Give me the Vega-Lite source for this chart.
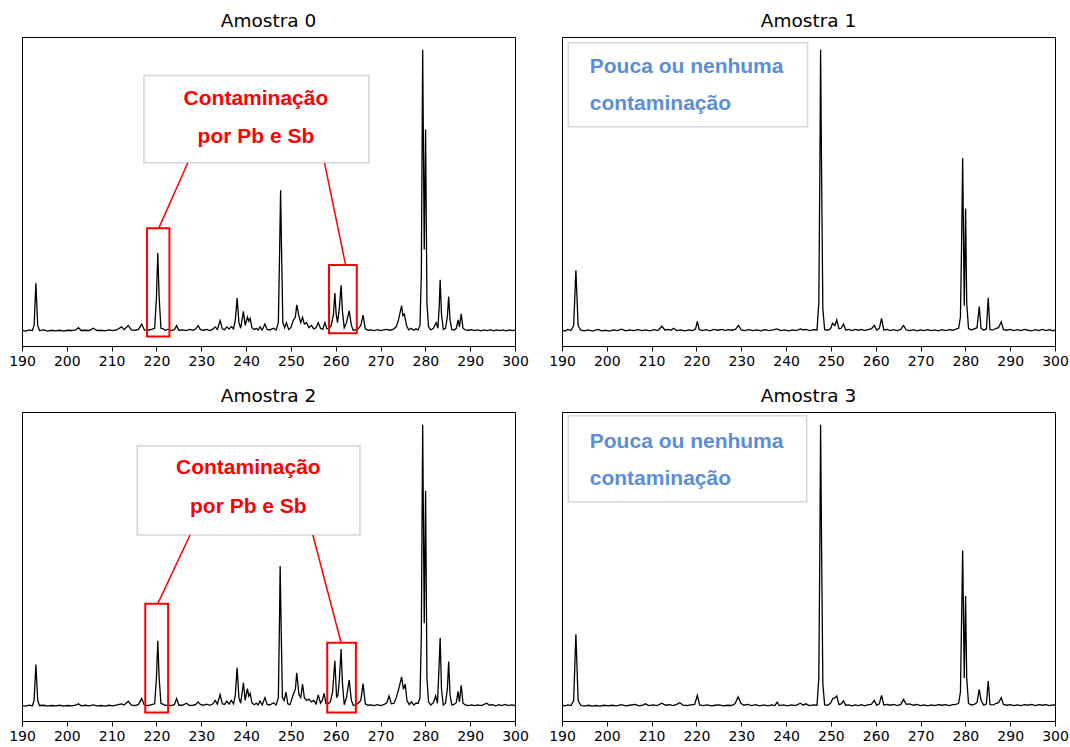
{
"$schema": "https://vega.github.io/schema/vega-lite/v6.json",
"background": "white",
"autosize": {"type": "pad"},
"padding": {"left": 8, "top": 11, "right": 5, "bottom": 5},
"datasets": {
"s0": [{"x":190.0,"y":0.003},{"x":190.8,"y":0.0},{"x":191.6,"y":0.004},{"x":192.3,"y":0.002},{"x":192.7,"y":0.02},{"x":193.1,"y":0.17},{"x":193.5,"y":0.02},{"x":193.9,"y":0.002},{"x":194.8,"y":0.004},{"x":195.7,"y":0.0},{"x":196.6,"y":0.003},{"x":197.5,"y":0.001},{"x":198.4,"y":0.003},{"x":199.3,"y":0.0},{"x":200.2,"y":0.003},{"x":201.1,"y":0.002},{"x":202.0,"y":0.004},{"x":202.6,"y":0.012},{"x":203.2,"y":0.002},{"x":204.1,"y":0.003},{"x":205.0,"y":0.002},{"x":205.9,"y":0.01},{"x":206.7,"y":0.002},{"x":207.6,"y":0.003},{"x":208.5,"y":0.001},{"x":209.4,"y":0.004},{"x":210.3,"y":0.002},{"x":211.2,"y":0.005},{"x":212.2,"y":0.015},{"x":212.8,"y":0.005},{"x":213.7,"y":0.02},{"x":214.4,"y":0.004},{"x":215.3,"y":0.003},{"x":216.0,"y":0.006},{"x":216.7,"y":0.025},{"x":217.3,"y":0.004},{"x":218.2,"y":0.003},{"x":218.9,"y":0.006},{"x":219.6,"y":0.01},{"x":220.0,"y":0.12},{"x":220.3,"y":0.277},{"x":220.6,"y":0.12},{"x":221.0,"y":0.01},{"x":221.5,"y":0.008},{"x":222.0,"y":0.003},{"x":222.6,"y":0.007},{"x":223.2,"y":0.002},{"x":224.0,"y":0.005},{"x":224.5,"y":0.019},{"x":225.0,"y":0.003},{"x":225.8,"y":0.004},{"x":226.6,"y":0.002},{"x":227.4,"y":0.006},{"x":228.2,"y":0.003},{"x":228.8,"y":0.008},{"x":229.3,"y":0.02},{"x":229.8,"y":0.005},{"x":230.5,"y":0.003},{"x":231.2,"y":0.006},{"x":231.9,"y":0.002},{"x":232.6,"y":0.007},{"x":233.1,"y":0.015},{"x":233.6,"y":0.006},{"x":234.2,"y":0.037},{"x":234.7,"y":0.008},{"x":235.2,"y":0.005},{"x":235.7,"y":0.015},{"x":236.2,"y":0.007},{"x":236.7,"y":0.016},{"x":237.2,"y":0.008},{"x":237.6,"y":0.04},{"x":238.0,"y":0.117},{"x":238.4,"y":0.03},{"x":238.8,"y":0.01},{"x":239.4,"y":0.07},{"x":239.8,"y":0.02},{"x":240.3,"y":0.05},{"x":240.6,"y":0.035},{"x":240.9,"y":0.045},{"x":241.3,"y":0.012},{"x":241.8,"y":0.006},{"x":242.3,"y":0.009},{"x":242.7,"y":0.004},{"x":243.1,"y":0.015},{"x":243.6,"y":0.004},{"x":244.2,"y":0.025},{"x":244.7,"y":0.006},{"x":245.3,"y":0.004},{"x":246.1,"y":0.01},{"x":246.7,"y":0.004},{"x":247.2,"y":0.03},{"x":247.5,"y":0.3},{"x":247.7,"y":0.5},{"x":247.9,"y":0.3},{"x":248.2,"y":0.03},{"x":248.6,"y":0.012},{"x":249.0,"y":0.03},{"x":249.5,"y":0.006},{"x":250.0,"y":0.012},{"x":250.5,"y":0.037},{"x":251.0,"y":0.05},{"x":251.3,"y":0.093},{"x":251.8,"y":0.053},{"x":252.2,"y":0.03},{"x":252.6,"y":0.049},{"x":253.0,"y":0.025},{"x":253.5,"y":0.03},{"x":254.0,"y":0.012},{"x":254.6,"y":0.02},{"x":255.1,"y":0.008},{"x":255.6,"y":0.012},{"x":256.1,"y":0.03},{"x":256.6,"y":0.01},{"x":257.1,"y":0.006},{"x":257.6,"y":0.03},{"x":258.0,"y":0.008},{"x":258.5,"y":0.01},{"x":259.0,"y":0.02},{"x":259.5,"y":0.06},{"x":259.8,"y":0.135},{"x":260.1,"y":0.06},{"x":260.4,"y":0.03},{"x":260.8,"y":0.08},{"x":261.2,"y":0.163},{"x":261.5,"y":0.07},{"x":261.9,"y":0.012},{"x":262.4,"y":0.03},{"x":263.0,"y":0.072},{"x":263.5,"y":0.02},{"x":263.9,"y":0.003},{"x":264.5,"y":0.004},{"x":265.0,"y":0.008},{"x":265.6,"y":0.02},{"x":266.1,"y":0.057},{"x":266.6,"y":0.008},{"x":267.2,"y":0.003},{"x":267.9,"y":0.004},{"x":268.6,"y":0.002},{"x":269.3,"y":0.005},{"x":270.0,"y":0.002},{"x":270.7,"y":0.004},{"x":271.4,"y":0.006},{"x":272.1,"y":0.003},{"x":272.8,"y":0.006},{"x":273.5,"y":0.015},{"x":274.0,"y":0.04},{"x":274.7,"y":0.09},{"x":275.0,"y":0.055},{"x":275.3,"y":0.06},{"x":275.8,"y":0.02},{"x":276.3,"y":0.004},{"x":276.8,"y":0.01},{"x":277.4,"y":0.003},{"x":277.9,"y":0.008},{"x":278.4,"y":0.004},{"x":278.8,"y":0.02},{"x":279.1,"y":0.2},{"x":279.4,"y":1.0},{"x":279.75,"y":0.29},{"x":280.05,"y":0.716},{"x":280.35,"y":0.1},{"x":280.7,"y":0.015},{"x":281.2,"y":0.004},{"x":281.8,"y":0.01},{"x":282.4,"y":0.03},{"x":282.8,"y":0.01},{"x":283.1,"y":0.09},{"x":283.3,"y":0.182},{"x":283.6,"y":0.06},{"x":284.0,"y":0.006},{"x":284.5,"y":0.01},{"x":284.9,"y":0.05},{"x":285.2,"y":0.123},{"x":285.5,"y":0.04},{"x":285.9,"y":0.005},{"x":286.4,"y":0.004},{"x":286.9,"y":0.01},{"x":287.3,"y":0.04},{"x":287.6,"y":0.015},{"x":288.0,"y":0.061},{"x":288.4,"y":0.01},{"x":288.9,"y":0.004},{"x":289.6,"y":0.003},{"x":290.3,"y":0.005},{"x":291.0,"y":0.002},{"x":291.7,"y":0.004},{"x":292.4,"y":0.001},{"x":293.1,"y":0.004},{"x":293.8,"y":0.002},{"x":294.5,"y":0.005},{"x":295.2,"y":0.001},{"x":295.9,"y":0.004},{"x":296.6,"y":0.002},{"x":297.3,"y":0.004},{"x":298.0,"y":0.001},{"x":298.7,"y":0.004},{"x":299.4,"y":0.002},{"x":300.0,"y":0.003}],
"s1": [{"x":190.0,"y":0.004},{"x":190.7,"y":0.0},{"x":191.3,"y":0.006},{"x":192.0,"y":0.002},{"x":192.6,"y":0.02},{"x":193.1,"y":0.216},{"x":193.6,"y":0.02},{"x":194.2,"y":0.003},{"x":195.0,"y":0.001},{"x":195.9,"y":0.004},{"x":196.8,"y":0.0},{"x":197.5,"y":0.003},{"x":198.1,"y":0.006},{"x":198.8,"y":0.001},{"x":199.7,"y":0.003},{"x":200.6,"y":0.0},{"x":201.5,"y":0.004},{"x":202.4,"y":0.002},{"x":203.3,"y":0.007},{"x":204.2,"y":0.001},{"x":205.1,"y":0.004},{"x":206.0,"y":0.002},{"x":206.9,"y":0.005},{"x":207.8,"y":0.002},{"x":208.7,"y":0.004},{"x":209.6,"y":0.001},{"x":210.5,"y":0.005},{"x":211.4,"y":0.002},{"x":212.3,"y":0.017},{"x":213.0,"y":0.003},{"x":213.7,"y":0.006},{"x":214.3,"y":0.003},{"x":214.9,"y":0.01},{"x":215.6,"y":0.002},{"x":216.5,"y":0.004},{"x":217.4,"y":0.001},{"x":218.3,"y":0.004},{"x":219.2,"y":0.002},{"x":219.8,"y":0.008},{"x":220.2,"y":0.034},{"x":220.6,"y":0.006},{"x":221.3,"y":0.002},{"x":222.1,"y":0.005},{"x":223.0,"y":0.001},{"x":223.9,"y":0.006},{"x":224.8,"y":0.003},{"x":225.7,"y":0.006},{"x":226.5,"y":0.002},{"x":227.0,"y":0.005},{"x":227.8,"y":0.003},{"x":228.7,"y":0.006},{"x":229.4,"y":0.02},{"x":230.0,"y":0.004},{"x":230.8,"y":0.002},{"x":231.7,"y":0.005},{"x":232.6,"y":0.002},{"x":233.5,"y":0.004},{"x":234.4,"y":0.001},{"x":235.3,"y":0.005},{"x":236.2,"y":0.002},{"x":237.1,"y":0.004},{"x":238.0,"y":0.008},{"x":238.8,"y":0.002},{"x":239.7,"y":0.004},{"x":240.6,"y":0.001},{"x":241.5,"y":0.004},{"x":242.3,"y":0.002},{"x":243.2,"y":0.008},{"x":243.8,"y":0.004},{"x":244.4,"y":0.006},{"x":245.3,"y":0.002},{"x":246.2,"y":0.005},{"x":246.9,"y":0.004},{"x":247.3,"y":0.1},{"x":247.55,"y":0.6},{"x":247.7,"y":1.0},{"x":247.9,"y":0.6},{"x":248.2,"y":0.08},{"x":248.6,"y":0.005},{"x":249.3,"y":0.003},{"x":249.9,"y":0.008},{"x":250.4,"y":0.028},{"x":250.9,"y":0.02},{"x":251.3,"y":0.04},{"x":251.8,"y":0.008},{"x":252.3,"y":0.01},{"x":252.8,"y":0.025},{"x":253.3,"y":0.004},{"x":254.0,"y":0.006},{"x":254.7,"y":0.002},{"x":255.4,"y":0.006},{"x":256.1,"y":0.003},{"x":256.8,"y":0.006},{"x":257.5,"y":0.002},{"x":258.2,"y":0.005},{"x":259.0,"y":0.008},{"x":259.7,"y":0.02},{"x":260.2,"y":0.004},{"x":260.8,"y":0.01},{"x":261.3,"y":0.045},{"x":261.8,"y":0.004},{"x":262.5,"y":0.006},{"x":263.2,"y":0.002},{"x":264.0,"y":0.005},{"x":264.8,"y":0.002},{"x":265.6,"y":0.006},{"x":266.2,"y":0.02},{"x":266.8,"y":0.004},{"x":267.6,"y":0.002},{"x":268.4,"y":0.005},{"x":269.2,"y":0.001},{"x":270.0,"y":0.004},{"x":270.8,"y":0.002},{"x":271.6,"y":0.005},{"x":272.4,"y":0.002},{"x":273.2,"y":0.004},{"x":274.0,"y":0.001},{"x":274.8,"y":0.005},{"x":275.6,"y":0.002},{"x":276.4,"y":0.005},{"x":277.2,"y":0.003},{"x":277.9,"y":0.007},{"x":278.5,"y":0.01},{"x":278.9,"y":0.05},{"x":279.15,"y":0.3},{"x":279.4,"y":0.614},{"x":279.75,"y":0.09},{"x":280.05,"y":0.436},{"x":280.3,"y":0.1},{"x":280.7,"y":0.01},{"x":281.3,"y":0.004},{"x":282.0,"y":0.008},{"x":282.6,"y":0.012},{"x":283.1,"y":0.087},{"x":283.5,"y":0.01},{"x":284.1,"y":0.003},{"x":284.7,"y":0.008},{"x":285.1,"y":0.118},{"x":285.5,"y":0.005},{"x":286.2,"y":0.004},{"x":286.9,"y":0.01},{"x":287.4,"y":0.012},{"x":288.0,"y":0.033},{"x":288.5,"y":0.005},{"x":289.2,"y":0.003},{"x":290.0,"y":0.006},{"x":290.8,"y":0.002},{"x":291.6,"y":0.005},{"x":292.4,"y":0.002},{"x":293.2,"y":0.006},{"x":294.0,"y":0.003},{"x":294.8,"y":0.001},{"x":295.6,"y":0.005},{"x":296.4,"y":0.002},{"x":297.2,"y":0.006},{"x":298.0,"y":0.002},{"x":298.8,"y":0.005},{"x":299.5,"y":0.001},{"x":300.0,"y":0.004}],
"s2": [{"x":190.0,"y":0.002},{"x":190.8,"y":0.0},{"x":191.6,"y":0.003},{"x":192.3,"y":0.001},{"x":192.7,"y":0.02},{"x":193.1,"y":0.148},{"x":193.5,"y":0.02},{"x":193.9,"y":0.002},{"x":194.8,"y":0.003},{"x":195.7,"y":0.0},{"x":196.6,"y":0.002},{"x":197.5,"y":0.001},{"x":198.4,"y":0.003},{"x":199.3,"y":0.0},{"x":200.2,"y":0.002},{"x":201.1,"y":0.001},{"x":202.0,"y":0.003},{"x":202.6,"y":0.008},{"x":203.2,"y":0.001},{"x":204.1,"y":0.003},{"x":205.0,"y":0.001},{"x":205.9,"y":0.004},{"x":206.7,"y":0.001},{"x":207.6,"y":0.002},{"x":208.5,"y":0.0},{"x":209.4,"y":0.003},{"x":210.3,"y":0.001},{"x":211.2,"y":0.004},{"x":212.2,"y":0.008},{"x":212.8,"y":0.004},{"x":213.7,"y":0.017},{"x":214.4,"y":0.003},{"x":215.3,"y":0.002},{"x":216.0,"y":0.006},{"x":216.7,"y":0.027},{"x":217.3,"y":0.003},{"x":218.2,"y":0.002},{"x":218.9,"y":0.005},{"x":219.6,"y":0.008},{"x":220.0,"y":0.1},{"x":220.3,"y":0.232},{"x":220.6,"y":0.1},{"x":221.0,"y":0.01},{"x":221.5,"y":0.006},{"x":222.0,"y":0.002},{"x":222.6,"y":0.005},{"x":223.2,"y":0.002},{"x":224.0,"y":0.005},{"x":224.5,"y":0.027},{"x":225.0,"y":0.003},{"x":225.8,"y":0.003},{"x":226.7,"y":0.01},{"x":227.4,"y":0.002},{"x":228.2,"y":0.003},{"x":228.8,"y":0.006},{"x":229.3,"y":0.015},{"x":229.8,"y":0.006},{"x":230.5,"y":0.003},{"x":231.2,"y":0.007},{"x":231.9,"y":0.003},{"x":232.6,"y":0.008},{"x":233.1,"y":0.02},{"x":233.6,"y":0.007},{"x":234.2,"y":0.041},{"x":234.7,"y":0.008},{"x":235.2,"y":0.006},{"x":235.7,"y":0.018},{"x":236.2,"y":0.007},{"x":236.7,"y":0.02},{"x":237.2,"y":0.008},{"x":237.6,"y":0.04},{"x":238.0,"y":0.136},{"x":238.4,"y":0.03},{"x":238.8,"y":0.01},{"x":239.4,"y":0.083},{"x":239.8,"y":0.02},{"x":240.3,"y":0.062},{"x":240.6,"y":0.035},{"x":240.9,"y":0.045},{"x":241.3,"y":0.012},{"x":241.8,"y":0.005},{"x":242.3,"y":0.01},{"x":242.7,"y":0.004},{"x":243.1,"y":0.018},{"x":243.6,"y":0.004},{"x":244.2,"y":0.03},{"x":244.7,"y":0.006},{"x":245.3,"y":0.004},{"x":246.1,"y":0.012},{"x":246.7,"y":0.004},{"x":247.2,"y":0.03},{"x":247.45,"y":0.3},{"x":247.6,"y":0.498},{"x":247.8,"y":0.3},{"x":248.1,"y":0.03},{"x":248.5,"y":0.02},{"x":248.9,"y":0.05},{"x":249.3,"y":0.008},{"x":249.8,"y":0.005},{"x":250.5,"y":0.04},{"x":251.0,"y":0.06},{"x":251.3,"y":0.118},{"x":251.8,"y":0.04},{"x":252.2,"y":0.03},{"x":252.6,"y":0.078},{"x":253.0,"y":0.03},{"x":253.5,"y":0.02},{"x":254.0,"y":0.025},{"x":254.6,"y":0.015},{"x":255.1,"y":0.02},{"x":255.6,"y":0.008},{"x":256.1,"y":0.04},{"x":256.6,"y":0.01},{"x":257.0,"y":0.02},{"x":257.4,"y":0.045},{"x":257.8,"y":0.01},{"x":258.3,"y":0.008},{"x":258.8,"y":0.015},{"x":259.3,"y":0.05},{"x":259.8,"y":0.161},{"x":260.2,"y":0.03},{"x":260.5,"y":0.04},{"x":260.8,"y":0.09},{"x":261.2,"y":0.203},{"x":261.5,"y":0.08},{"x":261.9,"y":0.005},{"x":262.4,"y":0.03},{"x":263.0,"y":0.092},{"x":263.5,"y":0.02},{"x":263.9,"y":0.003},{"x":264.5,"y":0.004},{"x":265.0,"y":0.01},{"x":265.6,"y":0.02},{"x":266.1,"y":0.08},{"x":266.6,"y":0.008},{"x":267.2,"y":0.003},{"x":267.9,"y":0.004},{"x":268.6,"y":0.002},{"x":269.3,"y":0.005},{"x":270.0,"y":0.002},{"x":270.7,"y":0.005},{"x":271.4,"y":0.012},{"x":271.9,"y":0.036},{"x":272.4,"y":0.008},{"x":273.0,"y":0.01},{"x":273.5,"y":0.03},{"x":274.0,"y":0.057},{"x":274.7,"y":0.104},{"x":275.1,"y":0.06},{"x":275.5,"y":0.078},{"x":275.9,"y":0.02},{"x":276.4,"y":0.005},{"x":276.9,"y":0.015},{"x":277.4,"y":0.004},{"x":277.9,"y":0.01},{"x":278.4,"y":0.01},{"x":278.8,"y":0.03},{"x":279.1,"y":0.25},{"x":279.4,"y":1.0},{"x":279.75,"y":0.294},{"x":280.05,"y":0.765},{"x":280.35,"y":0.1},{"x":280.7,"y":0.015},{"x":281.2,"y":0.004},{"x":281.8,"y":0.012},{"x":282.3,"y":0.036},{"x":282.7,"y":0.01},{"x":283.0,"y":0.12},{"x":283.3,"y":0.243},{"x":283.6,"y":0.06},{"x":284.0,"y":0.004},{"x":284.5,"y":0.01},{"x":284.9,"y":0.06},{"x":285.2,"y":0.158},{"x":285.5,"y":0.04},{"x":285.9,"y":0.004},{"x":286.4,"y":0.006},{"x":286.9,"y":0.012},{"x":287.3,"y":0.052},{"x":287.6,"y":0.015},{"x":288.0,"y":0.074},{"x":288.4,"y":0.01},{"x":288.9,"y":0.004},{"x":289.6,"y":0.002},{"x":290.3,"y":0.004},{"x":291.0,"y":0.002},{"x":291.7,"y":0.004},{"x":292.4,"y":0.002},{"x":293.1,"y":0.006},{"x":293.7,"y":0.01},{"x":294.3,"y":0.003},{"x":295.0,"y":0.005},{"x":295.7,"y":0.001},{"x":296.4,"y":0.005},{"x":297.1,"y":0.002},{"x":297.8,"y":0.006},{"x":298.5,"y":0.002},{"x":299.2,"y":0.004},{"x":300.0,"y":0.002}],
"s3": [{"x":190.0,"y":0.003},{"x":190.7,"y":0.001},{"x":191.3,"y":0.004},{"x":192.0,"y":0.002},{"x":192.6,"y":0.02},{"x":193.1,"y":0.255},{"x":193.6,"y":0.02},{"x":194.2,"y":0.002},{"x":195.0,"y":0.0},{"x":195.9,"y":0.003},{"x":196.8,"y":0.0},{"x":197.6,"y":0.002},{"x":198.5,"y":0.0},{"x":199.4,"y":0.003},{"x":200.3,"y":0.001},{"x":201.2,"y":0.003},{"x":202.1,"y":0.001},{"x":203.3,"y":0.005},{"x":204.2,"y":0.001},{"x":205.1,"y":0.003},{"x":206.3,"y":0.006},{"x":207.2,"y":0.001},{"x":208.0,"y":0.003},{"x":208.6,"y":0.008},{"x":209.4,"y":0.002},{"x":210.3,"y":0.004},{"x":211.2,"y":0.002},{"x":212.3,"y":0.01},{"x":213.1,"y":0.003},{"x":214.0,"y":0.005},{"x":214.8,"y":0.002},{"x":215.6,"y":0.006},{"x":216.3,"y":0.012},{"x":217.0,"y":0.003},{"x":217.9,"y":0.002},{"x":218.7,"y":0.004},{"x":219.6,"y":0.006},{"x":220.2,"y":0.038},{"x":220.7,"y":0.004},{"x":221.5,"y":0.002},{"x":222.4,"y":0.004},{"x":223.3,"y":0.001},{"x":224.2,"y":0.003},{"x":225.1,"y":0.004},{"x":226.0,"y":0.001},{"x":226.9,"y":0.003},{"x":227.8,"y":0.002},{"x":228.6,"y":0.008},{"x":229.3,"y":0.033},{"x":229.9,"y":0.01},{"x":230.6,"y":0.003},{"x":231.4,"y":0.006},{"x":232.3,"y":0.002},{"x":233.2,"y":0.005},{"x":234.1,"y":0.001},{"x":235.0,"y":0.004},{"x":235.9,"y":0.001},{"x":236.8,"y":0.004},{"x":237.5,"y":0.002},{"x":238.0,"y":0.014},{"x":238.5,"y":0.002},{"x":239.4,"y":0.004},{"x":240.3,"y":0.001},{"x":241.2,"y":0.004},{"x":242.1,"y":0.002},{"x":243.2,"y":0.01},{"x":243.8,"y":0.003},{"x":244.4,"y":0.008},{"x":245.2,"y":0.002},{"x":246.1,"y":0.004},{"x":246.9,"y":0.003},{"x":247.3,"y":0.1},{"x":247.55,"y":0.6},{"x":247.7,"y":1.0},{"x":247.9,"y":0.6},{"x":248.2,"y":0.08},{"x":248.6,"y":0.004},{"x":249.3,"y":0.003},{"x":249.9,"y":0.01},{"x":250.4,"y":0.026},{"x":250.9,"y":0.03},{"x":251.3,"y":0.036},{"x":251.8,"y":0.005},{"x":252.3,"y":0.008},{"x":252.8,"y":0.018},{"x":253.3,"y":0.003},{"x":254.0,"y":0.004},{"x":254.7,"y":0.001},{"x":255.4,"y":0.004},{"x":256.1,"y":0.002},{"x":256.8,"y":0.005},{"x":257.5,"y":0.001},{"x":258.2,"y":0.004},{"x":259.0,"y":0.006},{"x":259.7,"y":0.02},{"x":260.2,"y":0.003},{"x":260.8,"y":0.008},{"x":261.3,"y":0.038},{"x":261.8,"y":0.004},{"x":262.5,"y":0.006},{"x":263.2,"y":0.003},{"x":264.0,"y":0.006},{"x":264.8,"y":0.002},{"x":265.6,"y":0.006},{"x":266.2,"y":0.024},{"x":266.8,"y":0.006},{"x":267.6,"y":0.008},{"x":268.4,"y":0.003},{"x":269.2,"y":0.006},{"x":270.0,"y":0.002},{"x":270.8,"y":0.004},{"x":271.6,"y":0.001},{"x":272.4,"y":0.004},{"x":273.2,"y":0.002},{"x":274.0,"y":0.005},{"x":274.8,"y":0.003},{"x":275.6,"y":0.005},{"x":276.4,"y":0.002},{"x":277.2,"y":0.005},{"x":277.9,"y":0.006},{"x":278.5,"y":0.01},{"x":278.9,"y":0.05},{"x":279.15,"y":0.3},{"x":279.4,"y":0.553},{"x":279.75,"y":0.1},{"x":280.05,"y":0.391},{"x":280.3,"y":0.1},{"x":280.7,"y":0.01},{"x":281.3,"y":0.004},{"x":282.0,"y":0.006},{"x":282.6,"y":0.012},{"x":283.1,"y":0.059},{"x":283.5,"y":0.02},{"x":284.1,"y":0.003},{"x":284.7,"y":0.008},{"x":285.1,"y":0.089},{"x":285.5,"y":0.005},{"x":286.2,"y":0.004},{"x":286.9,"y":0.01},{"x":287.4,"y":0.012},{"x":288.0,"y":0.03},{"x":288.5,"y":0.006},{"x":289.2,"y":0.003},{"x":290.0,"y":0.005},{"x":290.8,"y":0.002},{"x":291.6,"y":0.004},{"x":292.4,"y":0.002},{"x":293.2,"y":0.005},{"x":294.0,"y":0.003},{"x":294.8,"y":0.006},{"x":295.6,"y":0.002},{"x":296.4,"y":0.005},{"x":297.2,"y":0.003},{"x":298.0,"y":0.005},{"x":298.8,"y":0.002},{"x":299.5,"y":0.004},{"x":300.0,"y":0.003}]
},
"columns": 2,
"spacing": {"row": 66, "column": 47},
"bounds": "flush",
"concat": [
{
"title": "Amostra 0",
"width": 493, "height": 309,
"layer": [
{"data": {"name": "s0"}, "mark": {"type": "line", "color": "black", "strokeWidth": 1.3, "clip": true},
 "encoding": {"x": {"field": "x", "type": "quantitative", "scale": {"domain": [190, 300], "nice": false, "zero": false}, "axis": {"values": [190,200,210,220,230,240,250,260,270,280,290,300], "title": null}}, "y": {"field": "y", "type": "quantitative", "scale": {"domain": [-0.053, 1.045], "nice": false, "zero": false}, "axis": null}}},
{"data": {"values": [{"x1": 217.2, "x2": 267.4, "y1": 0.598, "y2": 0.908}]}, "mark": {"type": "rect", "fill": "white", "stroke": "#d6d6d6", "strokeWidth": 1.5},
 "encoding": {"x": {"field": "x1", "type": "quantitative", "scale": {"domain": [190, 300], "nice": false, "zero": false}}, "x2": {"field": "x2"}, "y": {"field": "y1", "type": "quantitative", "scale": {"domain": [-0.053, 1.045], "nice": false, "zero": false}}, "y2": {"field": "y2"}}},
{"data": {"values": [{"x1": 217.9, "x2": 222.9, "y1": -0.019, "y2": 0.365}, {"x1": 258.5, "x2": 264.7, "y1": -0.008, "y2": 0.235}]}, "mark": {"type": "rect", "fill": null, "fillOpacity": 0, "stroke": "red", "strokeWidth": 2},
 "encoding": {"x": {"field": "x1", "type": "quantitative", "scale": {"domain": [190, 300], "nice": false, "zero": false}}, "x2": {"field": "x2"}, "y": {"field": "y1", "type": "quantitative", "scale": {"domain": [-0.053, 1.045], "nice": false, "zero": false}}, "y2": {"field": "y2"}}},
{"data": {"values": [{"x1": 227.0, "y1": 0.598, "x2": 220.5, "y2": 0.365}, {"x1": 257.5, "y1": 0.598, "x2": 262.2, "y2": 0.235}]}, "mark": {"type": "rule", "color": "red", "strokeWidth": 1.5},
 "encoding": {"x": {"field": "x1", "type": "quantitative", "scale": {"domain": [190, 300], "nice": false, "zero": false}}, "x2": {"field": "x2"}, "y": {"field": "y1", "type": "quantitative", "scale": {"domain": [-0.053, 1.045], "nice": false, "zero": false}}, "y2": {"field": "y2"}}},
{"data": {"values": [{"x": 242.2, "y": 0.823, "t": "Contaminação"}, {"x": 242.2, "y": 0.688, "t": "por Pb e Sb"}]}, "mark": {"type": "text", "font": "Liberation Sans", "fontWeight": "bold", "fontSize": 21, "color": "red", "align": "center", "baseline": "middle"},
 "encoding": {"x": {"field": "x", "type": "quantitative", "scale": {"domain": [190, 300], "nice": false, "zero": false}}, "y": {"field": "y", "type": "quantitative", "scale": {"domain": [-0.053, 1.045], "nice": false, "zero": false}}, "text": {"field": "t"}}}
]
},
{
"title": "Amostra 1",
"width": 493, "height": 309,
"layer": [
{"data": {"name": "s1"}, "mark": {"type": "line", "color": "black", "strokeWidth": 1.3, "clip": true},
 "encoding": {"x": {"field": "x", "type": "quantitative", "scale": {"domain": [190, 300], "nice": false, "zero": false}, "axis": {"values": [190,200,210,220,230,240,250,260,270,280,290,300], "title": null}}, "y": {"field": "y", "type": "quantitative", "scale": {"domain": [-0.053, 1.045], "nice": false, "zero": false}, "axis": null}}},
{"data": {"values": [{"x1": 191.4, "x2": 244.8, "y1": 0.726, "y2": 1.025}]}, "mark": {"type": "rect", "fill": "white", "stroke": "#d6d6d6", "strokeWidth": 1.5},
 "encoding": {"x": {"field": "x1", "type": "quantitative", "scale": {"domain": [190, 300], "nice": false, "zero": false}}, "x2": {"field": "x2"}, "y": {"field": "y1", "type": "quantitative", "scale": {"domain": [-0.053, 1.045], "nice": false, "zero": false}}, "y2": {"field": "y2"}}},
{"data": {"values": [{"x": 196.2, "y": 0.94, "t": "Pouca ou nenhuma"}, {"x": 196.2, "y": 0.807, "t": "contaminação"}]}, "mark": {"type": "text", "font": "Liberation Sans", "fontWeight": "bold", "fontSize": 21, "color": "#5b8ed6", "align": "left", "baseline": "middle"},
 "encoding": {"x": {"field": "x", "type": "quantitative", "scale": {"domain": [190, 300], "nice": false, "zero": false}}, "y": {"field": "y", "type": "quantitative", "scale": {"domain": [-0.053, 1.045], "nice": false, "zero": false}}, "text": {"field": "t"}}}
]
},
{
"title": "Amostra 2",
"width": 493, "height": 309,
"layer": [
{"data": {"name": "s2"}, "mark": {"type": "line", "color": "black", "strokeWidth": 1.3, "clip": true},
 "encoding": {"x": {"field": "x", "type": "quantitative", "scale": {"domain": [190, 300], "nice": false, "zero": false}, "axis": {"values": [190,200,210,220,230,240,250,260,270,280,290,300], "title": null}}, "y": {"field": "y", "type": "quantitative", "scale": {"domain": [-0.053, 1.045], "nice": false, "zero": false}, "axis": null}}},
{"data": {"values": [{"x1": 215.7, "x2": 265.4, "y1": 0.608, "y2": 0.925}]}, "mark": {"type": "rect", "fill": "white", "stroke": "#d6d6d6", "strokeWidth": 1.5},
 "encoding": {"x": {"field": "x1", "type": "quantitative", "scale": {"domain": [190, 300], "nice": false, "zero": false}}, "x2": {"field": "x2"}, "y": {"field": "y1", "type": "quantitative", "scale": {"domain": [-0.053, 1.045], "nice": false, "zero": false}}, "y2": {"field": "y2"}}},
{"data": {"values": [{"x1": 217.5, "x2": 222.6, "y1": -0.023, "y2": 0.364}, {"x1": 258.1, "x2": 264.5, "y1": -0.023, "y2": 0.225}]}, "mark": {"type": "rect", "fill": null, "fillOpacity": 0, "stroke": "red", "strokeWidth": 2},
 "encoding": {"x": {"field": "x1", "type": "quantitative", "scale": {"domain": [190, 300], "nice": false, "zero": false}}, "x2": {"field": "x2"}, "y": {"field": "y1", "type": "quantitative", "scale": {"domain": [-0.053, 1.045], "nice": false, "zero": false}}, "y2": {"field": "y2"}}},
{"data": {"values": [{"x1": 227.5, "y1": 0.608, "x2": 220.3, "y2": 0.364}, {"x1": 254.9, "y1": 0.608, "x2": 261.2, "y2": 0.225}]}, "mark": {"type": "rule", "color": "red", "strokeWidth": 1.5},
 "encoding": {"x": {"field": "x1", "type": "quantitative", "scale": {"domain": [190, 300], "nice": false, "zero": false}}, "x2": {"field": "x2"}, "y": {"field": "y1", "type": "quantitative", "scale": {"domain": [-0.053, 1.045], "nice": false, "zero": false}}, "y2": {"field": "y2"}}},
{"data": {"values": [{"x": 240.5, "y": 0.847, "t": "Contaminação"}, {"x": 240.5, "y": 0.708, "t": "por Pb e Sb"}]}, "mark": {"type": "text", "font": "Liberation Sans", "fontWeight": "bold", "fontSize": 21, "color": "red", "align": "center", "baseline": "middle"},
 "encoding": {"x": {"field": "x", "type": "quantitative", "scale": {"domain": [190, 300], "nice": false, "zero": false}}, "y": {"field": "y", "type": "quantitative", "scale": {"domain": [-0.053, 1.045], "nice": false, "zero": false}}, "text": {"field": "t"}}}
]
},
{
"title": "Amostra 3",
"width": 493, "height": 309,
"layer": [
{"data": {"name": "s3"}, "mark": {"type": "line", "color": "black", "strokeWidth": 1.3, "clip": true},
 "encoding": {"x": {"field": "x", "type": "quantitative", "scale": {"domain": [190, 300], "nice": false, "zero": false}, "axis": {"values": [190,200,210,220,230,240,250,260,270,280,290,300], "title": null}}, "y": {"field": "y", "type": "quantitative", "scale": {"domain": [-0.053, 1.045], "nice": false, "zero": false}, "axis": null}}},
{"data": {"values": [{"x1": 191.4, "x2": 244.6, "y1": 0.726, "y2": 1.032}]}, "mark": {"type": "rect", "fill": "white", "stroke": "#d6d6d6", "strokeWidth": 1.5},
 "encoding": {"x": {"field": "x1", "type": "quantitative", "scale": {"domain": [190, 300], "nice": false, "zero": false}}, "x2": {"field": "x2"}, "y": {"field": "y1", "type": "quantitative", "scale": {"domain": [-0.053, 1.045], "nice": false, "zero": false}}, "y2": {"field": "y2"}}},
{"data": {"values": [{"x": 196.2, "y": 0.94, "t": "Pouca ou nenhuma"}, {"x": 196.2, "y": 0.808, "t": "contaminação"}]}, "mark": {"type": "text", "font": "Liberation Sans", "fontWeight": "bold", "fontSize": 21, "color": "#5b8ed6", "align": "left", "baseline": "middle"},
 "encoding": {"x": {"field": "x", "type": "quantitative", "scale": {"domain": [190, 300], "nice": false, "zero": false}}, "y": {"field": "y", "type": "quantitative", "scale": {"domain": [-0.053, 1.045], "nice": false, "zero": false}}, "text": {"field": "t"}}}
]
}
],
"config": {
"view": {"stroke": "black", "strokeWidth": 1},
"axisX": {"grid": false, "domain": false, "ticks": true, "tickColor": "black", "tickSize": 5, "tickWidth": 1, "labelFont": "DejaVu Sans", "labelFontSize": 14, "labelColor": "black", "labelPadding": 3, "labelFlush": false},
"title": {"font": "DejaVu Sans", "fontSize": 18.5, "fontWeight": "normal", "color": "black", "offset": 7, "baseline": "alphabetic"}
}
}
